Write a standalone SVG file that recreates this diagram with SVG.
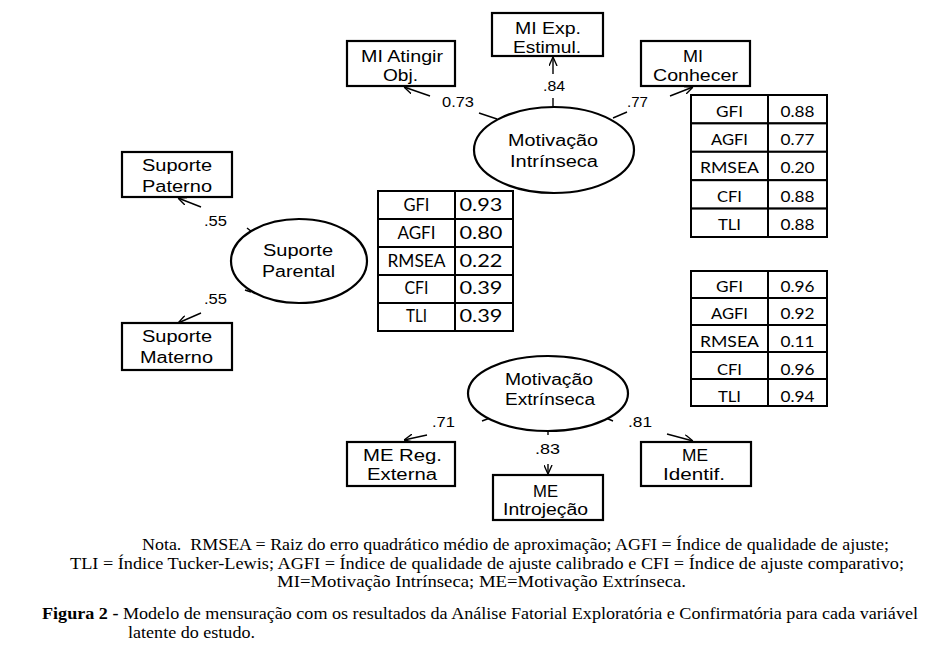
<svg xmlns="http://www.w3.org/2000/svg" width="942" height="659" viewBox="0 0 942 659">
<style>
.box{fill:#fff;stroke:#000;stroke-width:2.2}
.ell{fill:#fff;stroke:#000;stroke-width:2.2}
.lbl{font-family:"Liberation Sans",Arial,sans-serif;font-size:16px;fill:#000;text-anchor:middle}
.num{font-family:"Liberation Sans",Arial,sans-serif;font-size:15px;fill:#000;text-anchor:middle}
.tb{font-family:Lato,"Open Sans",sans-serif;font-size:15px;fill:#000;text-anchor:middle}
.tbm{font-family:Lato,"Open Sans",sans-serif;font-size:16.5px;fill:#000;text-anchor:middle}
.cell{fill:#fff;stroke:#000;stroke-width:2}
.con{stroke:#000;stroke-width:1.4;fill:none}
.note{font-family:"Liberation Serif","Times New Roman",serif;font-size:16px;fill:#000}
</style>
<defs>
<marker id="arr" viewBox="0 0 10 10" refX="10" refY="5" markerWidth="9" markerHeight="9" markerUnits="userSpaceOnUse" orient="auto">
<path d="M0,0.5 L10,5 L0,9.5" fill="none" stroke="#000" stroke-width="1.5"/>
</marker>
</defs>
<rect width="942" height="659" fill="#fff"/>

<g id="connectors">
<line class="con" x1="497" y1="119" x2="479" y2="113"/>
<line class="con" x1="430" y1="96" x2="404" y2="87" marker-end="url(#arr)"/>
<line class="con" x1="553" y1="107" x2="553" y2="98"/>
<line class="con" x1="553" y1="74" x2="553" y2="57" marker-end="url(#arr)"/>
<line class="con" x1="613" y1="118" x2="627" y2="112"/>
<line class="con" x1="670" y1="96" x2="693" y2="87" marker-end="url(#arr)"/>
<line class="con" x1="247" y1="228" x2="252" y2="232"/>
<line class="con" x1="201" y1="207" x2="178" y2="198" marker-end="url(#arr)"/>
<line class="con" x1="245" y1="290" x2="251" y2="292"/>
<line class="con" x1="201" y1="313" x2="178" y2="323" marker-end="url(#arr)"/>
<line class="con" x1="482" y1="421" x2="490" y2="418"/>
<line class="con" x1="427" y1="435" x2="404" y2="440" marker-end="url(#arr)"/>
<line class="con" x1="548" y1="431" x2="548" y2="435"/>
<line class="con" x1="548" y1="464" x2="548" y2="474" marker-end="url(#arr)"/>
<line class="con" x1="606" y1="418" x2="613" y2="421"/>
<line class="con" x1="667" y1="434" x2="693" y2="441" marker-end="url(#arr)"/>
<text class="num" x="458" y="107" textLength="32" lengthAdjust="spacingAndGlyphs">0.73</text>
<text class="num" x="554" y="91" textLength="22" lengthAdjust="spacingAndGlyphs">.84</text>
<text class="num" x="637.5" y="107" textLength="21" lengthAdjust="spacingAndGlyphs">.77</text>
<text class="num" x="215.5" y="226" textLength="23" lengthAdjust="spacingAndGlyphs">.55</text>
<text class="num" x="215.5" y="304" textLength="23" lengthAdjust="spacingAndGlyphs">.55</text>
<text class="num" x="443.5" y="427" textLength="23" lengthAdjust="spacingAndGlyphs">.71</text>
<text class="num" x="547.5" y="454" textLength="25" lengthAdjust="spacingAndGlyphs">.83</text>
<text class="num" x="640" y="427" textLength="24" lengthAdjust="spacingAndGlyphs">.81</text>
</g>

<g id="mi_atingir">
<rect class="box" x="347" y="41" width="108" height="45"/>
<text class="lbl" x="402" y="62" textLength="82" lengthAdjust="spacingAndGlyphs">MI Atingir</text>
<text class="lbl" x="400.5" y="81" textLength="35" lengthAdjust="spacingAndGlyphs">Obj.</text>
</g>
<g id="mi_exp">
<rect class="box" x="492" y="13" width="111" height="43"/>
<text class="lbl" x="548" y="34" textLength="66" lengthAdjust="spacingAndGlyphs">MI Exp.</text>
<text class="lbl" x="547" y="53" textLength="68" lengthAdjust="spacingAndGlyphs">Estimul.</text>
</g>
<g id="mi_conhecer">
<rect class="box" x="641" y="41" width="109" height="45"/>
<text class="lbl" x="693" y="62" textLength="20" lengthAdjust="spacingAndGlyphs">MI</text>
<text class="lbl" x="695.5" y="81" textLength="85" lengthAdjust="spacingAndGlyphs">Conhecer</text>
</g>
<g id="mot_intrinseca">
<ellipse class="ell" cx="554" cy="150" rx="80" ry="43"/>
<text class="lbl" x="553" y="146" textLength="90" lengthAdjust="spacingAndGlyphs">Motivação</text>
<text class="lbl" x="554" y="167" textLength="88" lengthAdjust="spacingAndGlyphs">Intrínseca</text>
</g>
<g id="sup_paterno">
<rect class="box" x="122" y="152" width="110" height="45"/>
<text class="lbl" x="177" y="171" textLength="70" lengthAdjust="spacingAndGlyphs">Suporte</text>
<text class="lbl" x="177" y="192" textLength="70" lengthAdjust="spacingAndGlyphs">Paterno</text>
</g>
<g id="sup_materno">
<rect class="box" x="122" y="323" width="110" height="47"/>
<text class="lbl" x="177" y="342" textLength="70" lengthAdjust="spacingAndGlyphs">Suporte</text>
<text class="lbl" x="176.5" y="363" textLength="73" lengthAdjust="spacingAndGlyphs">Materno</text>
</g>
<g id="sup_parental">
<ellipse class="ell" cx="299" cy="261" rx="68" ry="42"/>
<text class="lbl" x="298" y="256" textLength="70" lengthAdjust="spacingAndGlyphs">Suporte</text>
<text class="lbl" x="298.5" y="277" textLength="73" lengthAdjust="spacingAndGlyphs">Parental</text>
</g>
<g id="mot_extrinseca">
<ellipse class="ell" cx="548" cy="393.5" rx="80" ry="37.5"/>
<text class="lbl" x="549" y="385" textLength="88" lengthAdjust="spacingAndGlyphs">Motivação</text>
<text class="lbl" x="550" y="405" textLength="90" lengthAdjust="spacingAndGlyphs">Extrínseca</text>
</g>
<g id="me_reg">
<rect class="box" x="347" y="442" width="108" height="44"/>
<text class="lbl" x="402.5" y="461" textLength="79" lengthAdjust="spacingAndGlyphs">ME Reg.</text>
<text class="lbl" x="402" y="480" textLength="70" lengthAdjust="spacingAndGlyphs">Externa</text>
</g>
<g id="me_introjecao">
<rect class="box" x="493" y="475" width="110" height="45"/>
<text class="lbl" x="545.5" y="497" textLength="25" lengthAdjust="spacingAndGlyphs">ME</text>
<text class="lbl" x="545.5" y="515" textLength="85" lengthAdjust="spacingAndGlyphs">Introjeção</text>
</g>
<g id="me_identif">
<rect class="box" x="641" y="442" width="110" height="44"/>
<text class="lbl" x="695" y="461" textLength="26" lengthAdjust="spacingAndGlyphs">ME</text>
<text class="lbl" x="694" y="480" textLength="62" lengthAdjust="spacingAndGlyphs">Identif.</text>
</g>

<g id="fit_parental">
<rect class="cell" x="378" y="191" width="77" height="28"/><rect class="cell" x="455" y="191" width="58" height="28"/>
<rect class="cell" x="378" y="219" width="77" height="28"/><rect class="cell" x="455" y="219" width="58" height="28"/>
<rect class="cell" x="378" y="247" width="77" height="28"/><rect class="cell" x="455" y="247" width="58" height="28"/>
<rect class="cell" x="378" y="275" width="77" height="28"/><rect class="cell" x="455" y="275" width="58" height="28"/>
<rect class="cell" x="378" y="303" width="77" height="28"/><rect class="cell" x="455" y="303" width="58" height="28"/>
<text class="tbm" x="416.5" y="211" textLength="26" lengthAdjust="spacingAndGlyphs">GFI</text>
<text class="tbm" x="416.5" y="239" textLength="38" lengthAdjust="spacingAndGlyphs">AGFI</text>
<text class="tbm" x="416.5" y="267" textLength="58" lengthAdjust="spacingAndGlyphs">RMSEA</text>
<text class="tbm" x="416.5" y="294" textLength="24" lengthAdjust="spacingAndGlyphs">CFI</text>
<text class="tbm" x="416.5" y="322" textLength="21" lengthAdjust="spacingAndGlyphs">TLI</text>
<text class="tbm" x="481" y="211" textLength="43" lengthAdjust="spacingAndGlyphs">0.93</text>
<text class="tbm" x="481" y="239" textLength="43" lengthAdjust="spacingAndGlyphs">0.80</text>
<text class="tbm" x="481" y="267" textLength="43" lengthAdjust="spacingAndGlyphs">0.22</text>
<text class="tbm" x="481" y="294" textLength="43" lengthAdjust="spacingAndGlyphs">0.39</text>
<text class="tbm" x="481" y="322" textLength="43" lengthAdjust="spacingAndGlyphs">0.39</text>
</g>

<g id="fit_intrinseca">
<rect class="cell" x="691" y="95" width="77" height="28.4"/><rect class="cell" x="768" y="95" width="59" height="28.4"/>
<rect class="cell" x="691" y="123.4" width="77" height="28.4"/><rect class="cell" x="768" y="123.4" width="59" height="28.4"/>
<rect class="cell" x="691" y="151.8" width="77" height="28.4"/><rect class="cell" x="768" y="151.8" width="59" height="28.4"/>
<rect class="cell" x="691" y="180.2" width="77" height="28.4"/><rect class="cell" x="768" y="180.2" width="59" height="28.4"/>
<rect class="cell" x="691" y="208.6" width="77" height="28.4"/><rect class="cell" x="768" y="208.6" width="59" height="28.4"/>
<text class="tb" x="729.5" y="117" textLength="27" lengthAdjust="spacingAndGlyphs">GFI</text>
<text class="tb" x="729.5" y="145" textLength="37" lengthAdjust="spacingAndGlyphs">AGFI</text>
<text class="tb" x="729.5" y="173" textLength="59" lengthAdjust="spacingAndGlyphs">RMSEA</text>
<text class="tb" x="729.5" y="202" textLength="25" lengthAdjust="spacingAndGlyphs">CFI</text>
<text class="tb" x="729.5" y="230" textLength="23" lengthAdjust="spacingAndGlyphs">TLI</text>
<text class="tb" x="797.5" y="117" textLength="34" lengthAdjust="spacingAndGlyphs">0.88</text>
<text class="tb" x="797.5" y="145" textLength="34" lengthAdjust="spacingAndGlyphs">0.77</text>
<text class="tb" x="797.5" y="173" textLength="34" lengthAdjust="spacingAndGlyphs">0.20</text>
<text class="tb" x="797.5" y="202" textLength="34" lengthAdjust="spacingAndGlyphs">0.88</text>
<text class="tb" x="797.5" y="230" textLength="34" lengthAdjust="spacingAndGlyphs">0.88</text>
</g>

<g id="fit_extrinseca">
<rect class="cell" x="691" y="271" width="77" height="27"/><rect class="cell" x="768" y="271" width="59" height="27"/>
<rect class="cell" x="691" y="298" width="77" height="27"/><rect class="cell" x="768" y="298" width="59" height="27"/>
<rect class="cell" x="691" y="325" width="77" height="27"/><rect class="cell" x="768" y="325" width="59" height="27"/>
<rect class="cell" x="691" y="352" width="77" height="27"/><rect class="cell" x="768" y="352" width="59" height="27"/>
<rect class="cell" x="691" y="379" width="77" height="27"/><rect class="cell" x="768" y="379" width="59" height="27"/>
<text class="tb" x="729.5" y="292" textLength="27" lengthAdjust="spacingAndGlyphs">GFI</text>
<text class="tb" x="729.5" y="319" textLength="37" lengthAdjust="spacingAndGlyphs">AGFI</text>
<text class="tb" x="729.5" y="347" textLength="59" lengthAdjust="spacingAndGlyphs">RMSEA</text>
<text class="tb" x="729.5" y="375" textLength="25" lengthAdjust="spacingAndGlyphs">CFI</text>
<text class="tb" x="729.5" y="402" textLength="23" lengthAdjust="spacingAndGlyphs">TLI</text>
<text class="tb" x="797.5" y="292" textLength="34" lengthAdjust="spacingAndGlyphs">0.96</text>
<text class="tb" x="797.5" y="319" textLength="34" lengthAdjust="spacingAndGlyphs">0.92</text>
<text class="tb" x="797.5" y="347" textLength="34" lengthAdjust="spacingAndGlyphs">0.11</text>
<text class="tb" x="797.5" y="375" textLength="34" lengthAdjust="spacingAndGlyphs">0.96</text>
<text class="tb" x="797.5" y="402" textLength="34" lengthAdjust="spacingAndGlyphs">0.94</text>
</g>

<g id="notes">
<text class="note" x="142" y="550" textLength="747" lengthAdjust="spacingAndGlyphs">Nota.&#160; RMSEA = Raiz do erro quadrático médio de aproximação; AGFI = Índice de qualidade de ajuste;</text>
<text class="note" x="70" y="569" textLength="834" lengthAdjust="spacingAndGlyphs">TLI = Índice Tucker-Lewis; AGFI = Índice de qualidade de ajuste calibrado e CFI = Índice de ajuste comparativo;</text>
<text class="note" x="277" y="587" textLength="409" lengthAdjust="spacingAndGlyphs">MI=Motivação Intrínseca; ME=Motivação Extrínseca.</text>
<text class="note" x="42" y="619" textLength="876" lengthAdjust="spacingAndGlyphs"><tspan font-weight="bold">Figura 2 -</tspan> Modelo de mensuração com os resultados da Análise Fatorial Exploratória e Confirmatória para cada variável</text>
<text class="note" x="128" y="638" textLength="127" lengthAdjust="spacingAndGlyphs">latente do estudo.</text>
</g>
</svg>
